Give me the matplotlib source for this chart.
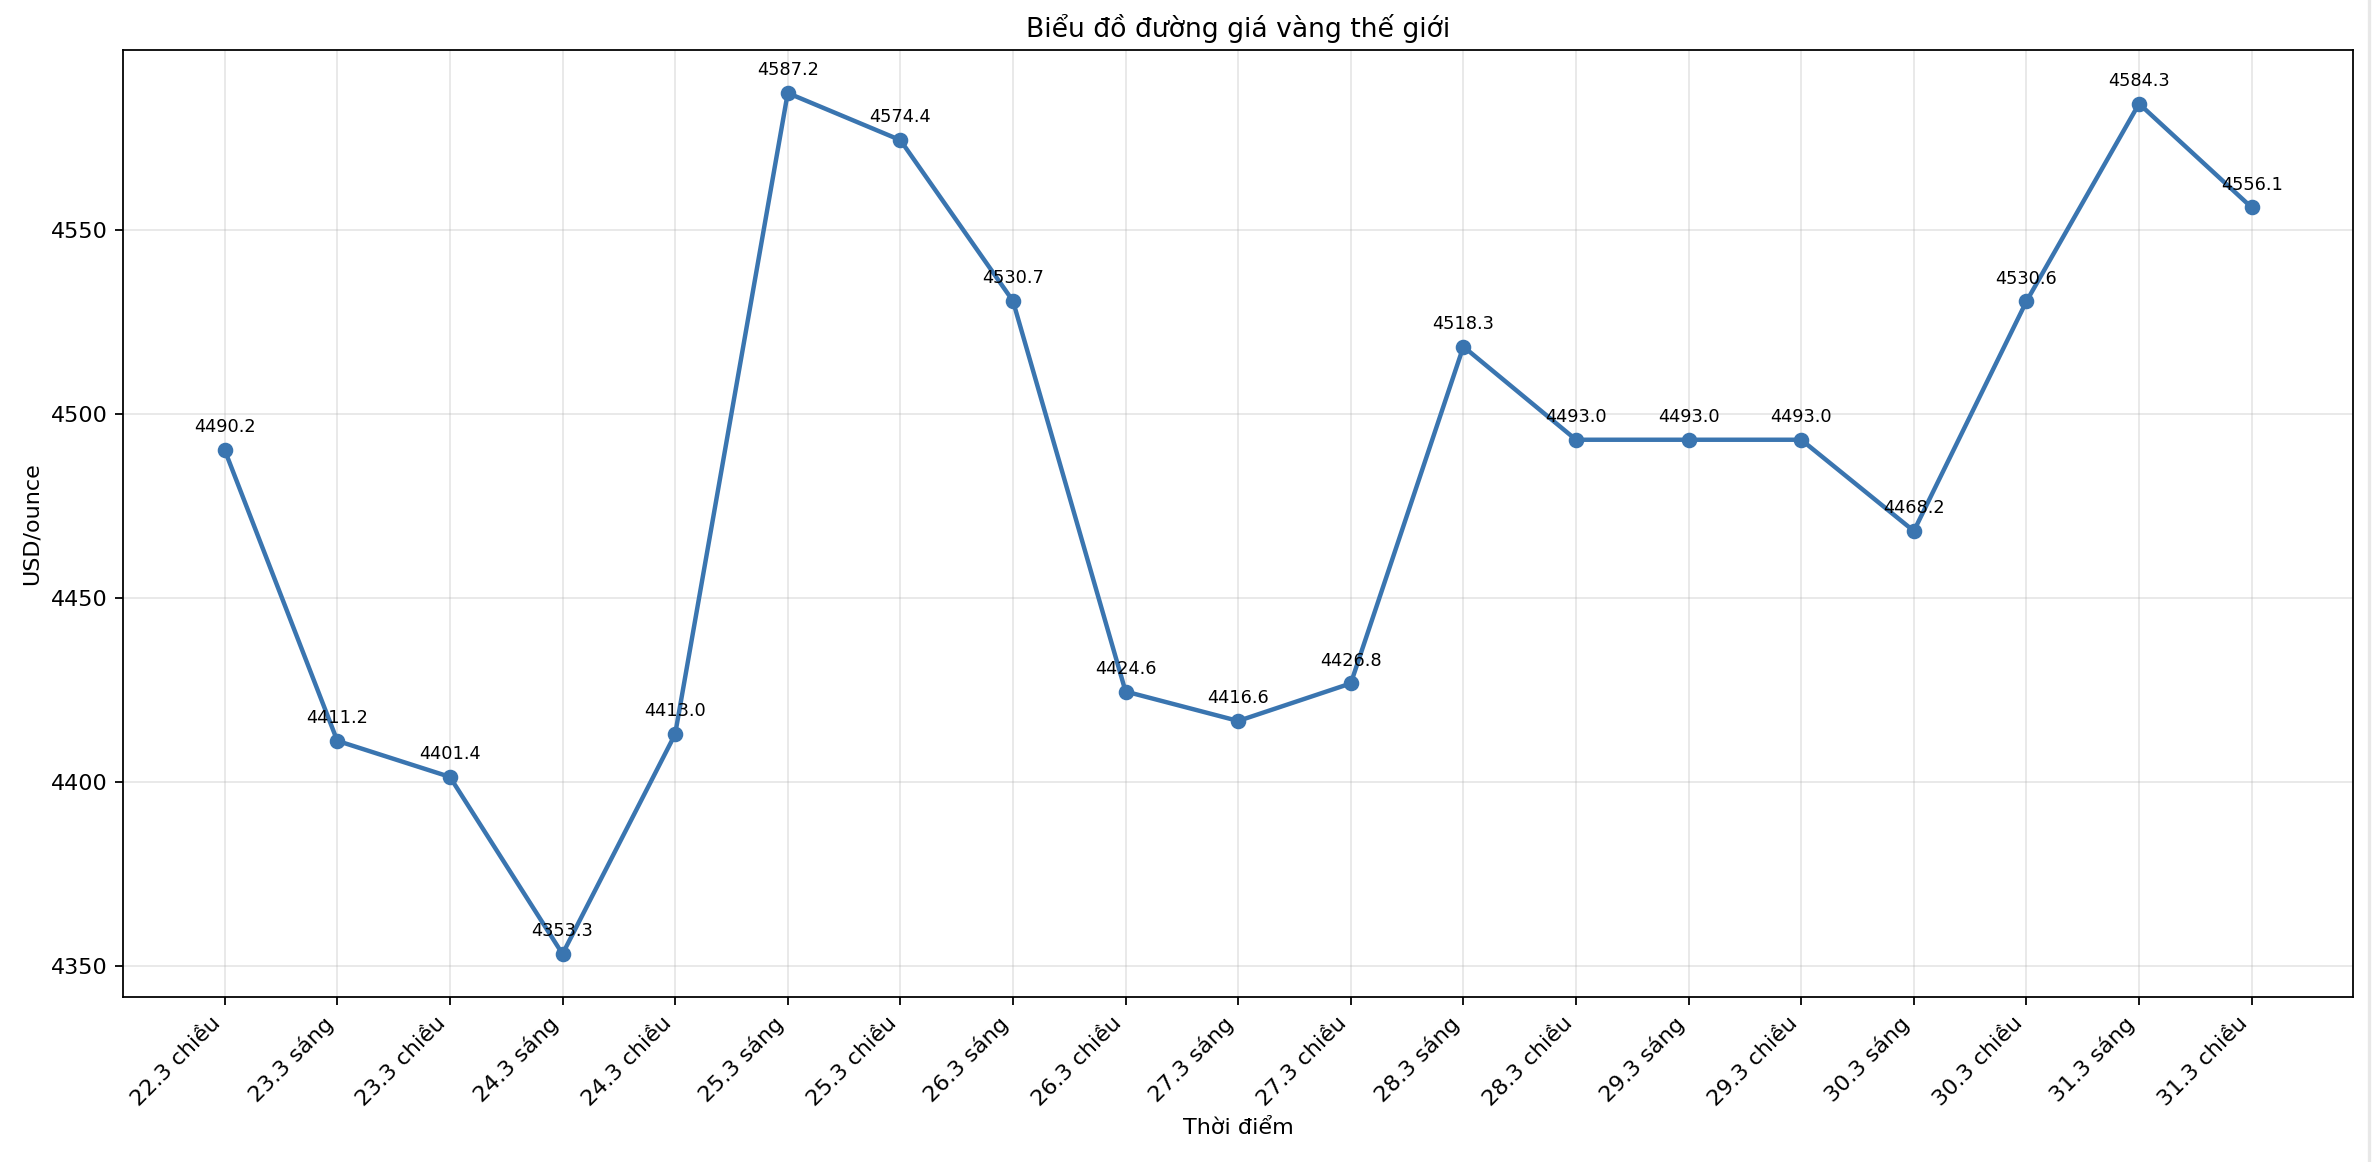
import matplotlib
matplotlib.use('Agg')
import matplotlib.pyplot as plt
from matplotlib.lines import Line2D

# data
labels = [
    '22.3 chiều', '23.3 sáng', '23.3 chiều', '24.3 sáng', '24.3 chiều',
    '25.3 sáng', '25.3 chiều', '26.3 sáng', '26.3 chiều', '27.3 sáng',
    '27.3 chiều', '28.3 sáng', '28.3 chiều', '29.3 sáng', '29.3 chiều',
    '30.3 sáng', '30.3 chiều', '31.3 sáng', '31.3 chiều'
]
prices = [
    4490.2, 4411.2, 4401.4, 4353.3, 4413.0,
    4587.2, 4574.4, 4530.7, 4424.6, 4416.6,
    4426.8, 4518.3, 4493.0, 4493.0, 4493.0,
    4468.2, 4530.6, 4584.3, 4556.1
]

dpi = 160
fig, ax = plt.subplots(figsize=(2372 / dpi, 1162 / dpi), dpi=dpi)
fig.subplots_adjust(left=0.052, right=0.992, bottom=0.142, top=0.957)

x = range(len(labels))
ax.plot(x, prices, marker='o', color='#3a75b0', linewidth=2, markersize=6)

# value labels above each point
for i, v in enumerate(prices):
    ax.annotate(f'{v:.1f}', (i, v), textcoords='offset points', xytext=(0, 8),
                ha='center', fontsize=8)

ax.set_xticks(list(x))
ax.set_xticklabels(labels, rotation=45, ha='right')
ax.set_title('Biểu đồ đường giá vàng thế giới')
ax.set_xlabel('Thời điểm')
ax.set_ylabel('USD/ounce')
ax.grid(True, alpha=0.3)

# faint border line at the right edge of the original image
fig.add_artist(Line2D([0.9987, 0.9987], [0.0, 1.0], color='#e8e8e8', linewidth=1.5))

plt.savefig('out.png', dpi=dpi)
